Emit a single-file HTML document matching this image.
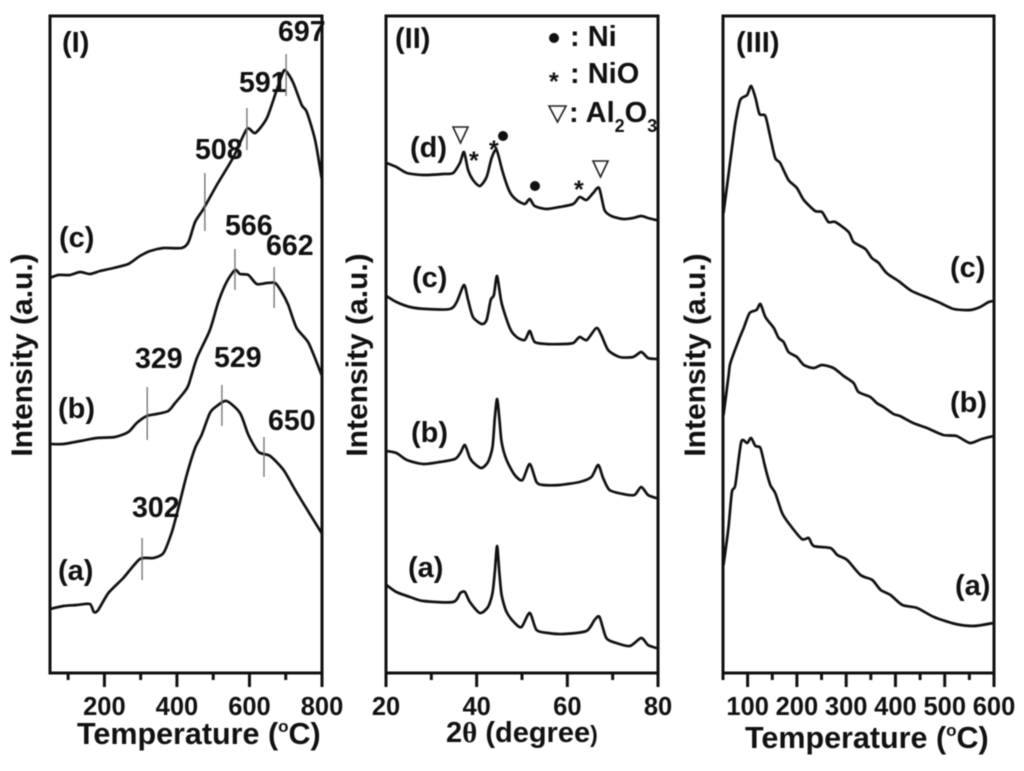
<!DOCTYPE html>
<html lang="en">
<head>
<meta charset="utf-8">
<title>TPD, XRD and desorption panels</title>
<style>
html,body{margin:0;padding:0;background:#fff;width:1024px;height:771px;overflow:hidden}
svg{display:block;filter:blur(.55px)}
text{font-family:"Liberation Sans",sans-serif;font-weight:bold;fill:#111}
.tick{font-size:25.5px;text-anchor:middle}
.ttl{font-size:30px}
.ttlx{font-size:30.5px}
.note{font-size:28.5px}
.lbl{font-size:29px}
.leg{font-size:29px}
</style>
</head>
<body>
<svg id="chart" width="1024" height="771" viewBox="0 0 1024 771" xmlns="http://www.w3.org/2000/svg">
  <g id="panel1">
    <text class="lbl" x="62" y="52">(I)</text>
    <text class="ttl" transform="translate(32,355) rotate(-90)" text-anchor="middle">Intensity (a.u.)</text>
    <text class="ttlx" x="77" y="744">Temperature (<tspan font-size="17" dy="-12">o</tspan><tspan dy="12">C)</tspan></text>
    <text class="lbl" x="59" y="247">(c)</text>
    <text class="lbl" x="58" y="418">(b)</text>
    <text class="lbl" x="58" y="580">(a)</text>
    <text class="note" x="278" y="41">697</text>
    <text class="note" x="239" y="92">591</text>
    <text class="note" x="195" y="159">508</text>
    <text class="note" x="225" y="235">566</text>
    <text class="note" x="266" y="255">662</text>
    <text class="note" x="135" y="368">329</text>
    <text class="note" x="214" y="367">529</text>
    <text class="note" x="268" y="430">650</text>
    <text class="note" x="132" y="517">302</text>
  </g>
  <g id="panel2">
    <text class="lbl" x="395" y="48">(II)</text>
    <text class="ttl" transform="translate(367,355) rotate(-90)" text-anchor="middle">Intensity (a.u.)</text>
    <text class="ttl" x="446" y="742" font-size="29" style="font-size:29px">2<tspan font-family="Liberation Serif">θ</tspan> (degree<tspan style="font-size:23px">)</tspan></text>
    <text class="lbl" x="410" y="157">(d)</text>
    <text class="lbl" x="412" y="287">(c)</text>
    <text class="lbl" x="411" y="442">(b)</text>
    <text class="lbl" x="408" y="577">(a)</text>
    <g>
      <circle cx="554" cy="38" r="5" fill="#111"/>
      <text class="leg" x="570" y="46">: Ni</text>
      <text x="549" y="90" font-size="25">*</text>
      <text class="leg" x="570" y="83">: NiO</text>
      <polygon points="549,106 566,106 557.5,122" fill="none" stroke="#222" stroke-width="1.6"/>
      <text class="leg" x="569" y="122">: Al<tspan style="font-size:18px" dy="10">2</tspan><tspan dy="-10">O</tspan><tspan style="font-size:18px" dy="10">3</tspan></text>
    </g>
    <g>
      <polygon points="453,127 468,127 460.5,143" fill="none" stroke="#222" stroke-width="1.6"/>
      <text x="469" y="169" font-size="25">*</text>
      <text x="489" y="158" font-size="25">*</text>
      <circle cx="503" cy="136" r="5" fill="#111"/>
      <circle cx="535" cy="186" r="5" fill="#111"/>
      <text x="574" y="198" font-size="25">*</text>
      <polygon points="593,161 608,161 600.5,177" fill="none" stroke="#222" stroke-width="1.6"/>
    </g>
  </g>
  <g id="panel3">
    <text class="lbl" x="736" y="52">(III)</text>
    <text class="ttl" transform="translate(705,355) rotate(-90)" text-anchor="middle">Intensity (a.u.)</text>
    <text class="ttlx" x="745" y="748">Temperature (<tspan font-size="17" dy="-12">o</tspan><tspan dy="12">C)</tspan></text>
    <text class="lbl" x="950" y="277">(c)</text>
    <text class="lbl" x="950" y="412">(b)</text>
    <text class="lbl" x="955" y="595">(a)</text>
  </g>
</svg>
<script>
// Panel I data
const p1TempC = [50,73,105,133,160,188,225,266,298,326,363,413,432,450,473,510,556,593,616,648,675,694,703,721,744,758,781,799];
const p1IntC = [395,398,398,401,399,402,405,409,417,422,425,425,431,451,464,488,516,544,540,555,583,602,601,590,568,561,533,495];
const p1TempB = [50,87,133,179,229,266,289,317,344,376,395,418,432,455,491,514,537,560,574,597,620,648,671,689,707,730,763,799];
const p1IntB = [229,229,232,235,236,241,250,257,259,262,270,280,288,315,343,371,391,403,399,398,389,390,390,381,368,345,330,298];
const p1TempA = [50,87,124,160,171,183,211,252,298,335,363,386,404,427,450,468,491,510,537,574,597,625,657,694,726,763,799];
const p1IntA = [64,67,68,69,61,63,80,95,114,115,120,141,165,198,225,238,260,267,272,260,238,221,217,203,183,161,140];
const p1MarkTemp = [701,593,477,560,668,318,524,640,304];
const p1MarkLow = [577,523,442,383,365,233,247,196,93];
const p1MarkHigh = [619,565,500,424,406,286,288,236,135];
const p1MajorTicks = [200,400,600,800];
const p1MinorTicks = [100,300,500,700];

// Panel II data
const p2AngleD = [20.1,22.3,24.6,28.2,32.6,34.8,36.3,37.2,38.1,39.2,40.7,42.2,43.3,44.4,45.8,47.3,48.8,50.6,51.7,52.8,55.4,58.3,61.3,62.7,64.2,65.7,67,68.2,69.7,72.3,74.5,76.3,77.8,79.6];
const p2IntD = [510,506,500,498,499,500,510,521,503,493,487,496,515,523,500,481,473,469,474,467,464,466,469,476,473,480,485,463,457,454,455,457,455,453];
const p2AngleC = [20.1,22.3,25.3,29,34.1,35.6,37.2,38.1,39.2,41.1,42.2,43.1,43.8,44.5,45.5,47.3,48.8,50.6,51.7,52.8,55.4,59.1,61.3,62.7,64.3,66.4,67.5,69,71.5,74.5,76.3,77.8,79.6];
const p2IntC = [377,371,366,364,364,371,388,373,356,349,353,373,378,397,370,345,336,333,342,331,329,329,330,336,333,345,338,323,316,316,321,315,314];
const p2AngleB = [20.1,22.3,24.6,28.2,31.9,35.2,36.4,37.4,38.5,39.6,41.1,42.5,43.5,44,44.5,45,45.5,46.6,48.4,50.1,51.7,53.2,54.7,58.3,62.7,65.3,66.8,67.9,69.3,72.3,74.8,76.3,77.8,79.6];
const p2IntB = [222,220,213,209,211,214,220,228,215,209,205,211,226,255,274,255,231,213,198,193,209,191,188,188,191,196,208,195,183,179,178,186,178,175];
const p2AngleA = [20.1,22.3,25.3,28.2,34.8,36.4,37.4,38.5,40.7,42.5,43.5,44,44.5,45,45.5,46.6,48.4,49.9,51.7,53.2,55.8,59.1,64.2,66,67.1,68.6,70.8,73.8,76.3,77.8,79.6];
const p2IntA = [88,81,76,72,71,80,81,71,60,66,80,101,127,101,78,61,50,46,60,43,40,39,42,53,56,35,30,27,35,28,25];
const p2MajorTicks = [20,40,60,80];
const p2MinorTicks = [30,50,70];

// Panel III data
const p3TempC = [51,65,75,85,99,107,116,124,136,146,156,166,183,200,214,237,251,264,278,305,315,339,352,366,382,406,433,467,491,518,551,572,589,599];
const p3IntC = [460,513,550,573,578,587,575,559,557,536,515,510,493,485,473,462,461,451,451,441,431,424,415,410,400,392,382,375,370,364,363,366,371,372];
const p3TempB = [51,61,65,82,92,104,118,126,136,153,163,173,183,200,214,234,251,274,295,315,325,349,362,376,396,409,436,464,497,524,551,575,599];
const p3IntB = [258,296,310,333,345,360,363,369,356,345,335,331,321,316,308,305,308,305,297,290,281,276,270,266,259,257,250,245,238,237,230,234,237];
const p3TempA = [51,61,68,75,87,99,107,116,126,136,146,156,170,183,210,224,234,268,282,302,329,353,370,390,414,444,478,522,559,599];
const p3IntA = [108,145,181,188,231,230,235,227,225,205,188,180,160,150,134,135,127,125,118,113,98,93,83,78,68,65,56,49,47,50];
const p3MajorTicks = [100,200,300,400,500,600];
const p3MinorTicks = [50,150,250,350,450,550];

const SVGNS = 'http://www.w3.org/2000/svg';
const plotTop = 16, plotBottom = 673, intensityMax = 657;
function linear(d0, d1, r0, r1) {
  return function (v) { return r0 + (v - d0) * (r1 - r0) / (d1 - d0); };
}
const yScale = linear(0, intensityMax, plotBottom, plotTop);

function make(tag, parent) {
  const el = document.createElementNS(SVGNS, tag);
  parent.appendChild(el);
  return el;
}
function smoothPath(pts) {
  let d = 'M' + pts[0][0].toFixed(1) + ' ' + pts[0][1].toFixed(1);
  const k = 8;
  for (let i = 0; i < pts.length - 1; i++) {
    const p0 = pts[Math.max(0, i - 1)], p1 = pts[i], p2 = pts[i + 1], p3 = pts[Math.min(pts.length - 1, i + 2)];
    const c1x = p1[0] + (p2[0] - p0[0]) / k, c1y = p1[1] + (p2[1] - p0[1]) / k;
    const c2x = p2[0] - (p3[0] - p1[0]) / k, c2y = p2[1] - (p3[1] - p1[1]) / k;
    d += 'C' + c1x.toFixed(1) + ' ' + c1y.toFixed(1) + ' ' + c2x.toFixed(1) + ' ' + c2y.toFixed(1) + ' ' + p2[0].toFixed(1) + ' ' + p2[1].toFixed(1);
  }
  return d;
}
function drawSeries(parent, xScale, xs, ys, name) {
  const el = make('path', parent);
  
  
  const pts = xs.map(function (x, i) { return [xScale(x), yScale(ys[i])]; });
  el.setAttribute('d', smoothPath(pts));
  el.setAttribute('fill', 'none');
  el.setAttribute('stroke', '#111');
  el.setAttribute('stroke-width', '2.7');
  el.setAttribute('stroke-linejoin', 'round');
  el.setAttribute('stroke-linecap', 'round');
}
function drawTick(parent, x, len) {
  const el = make('line', parent);
  
  
  el.setAttribute('x1', x);
  el.setAttribute('x2', x);
  el.setAttribute('y1', plotBottom);
  el.setAttribute('y2', plotBottom + len);
  el.setAttribute('stroke', '#111');
  el.setAttribute('stroke-width', '3');
}
function drawAxes(parent, xScale, left, right, major, minor) {
  const frame = make('rect', parent);
  
  
  frame.setAttribute('x', left);
  frame.setAttribute('y', plotTop);
  frame.setAttribute('width', right - left);
  frame.setAttribute('height', plotBottom - plotTop);
  frame.setAttribute('fill', 'none');
  frame.setAttribute('stroke', '#111');
  frame.setAttribute('stroke-width', '3');
  minor.forEach(function (v) { drawTick(parent, xScale(v), 7); });
  major.forEach(function (v) {
    drawTick(parent, xScale(v), 14);
    const t = make('text', parent);
    
    
    t.setAttribute('class', 'tick');
    t.setAttribute('x', xScale(v));
    t.setAttribute('y', 715);
    t.textContent = String(v);
  });
}

const x1 = linear(50, 800, 50, 322);
const x2 = linear(20, 80, 386, 658);
const x3 = linear(50, 600, 723, 994);
const g1 = document.getElementById('panel1');
const g2 = document.getElementById('panel2');
const g3 = document.getElementById('panel3');

drawAxes(g1, x1, 50, 322, p1MajorTicks, p1MinorTicks);
drawAxes(g2, x2, 386, 658, p2MajorTicks, p2MinorTicks);
drawAxes(g3, x3, 723, 994, p3MajorTicks, p3MinorTicks);

drawSeries(g1, x1, p1TempC, p1IntC, 'panel-i-curve-c');
drawSeries(g1, x1, p1TempB, p1IntB, 'panel-i-curve-b');
drawSeries(g1, x1, p1TempA, p1IntA, 'panel-i-curve-a');
p1MarkTemp.forEach(function (t, i) {
  const el = make('line', g1);
  
  
  el.setAttribute('x1', x1(t));
  el.setAttribute('x2', x1(t));
  el.setAttribute('y1', yScale(p1MarkLow[i]));
  el.setAttribute('y2', yScale(p1MarkHigh[i]));
  el.setAttribute('stroke', '#777');
  el.setAttribute('stroke-width', '1.4');
});

drawSeries(g2, x2, p2AngleD, p2IntD, 'panel-ii-curve-d');
drawSeries(g2, x2, p2AngleC, p2IntC, 'panel-ii-curve-c');
drawSeries(g2, x2, p2AngleB, p2IntB, 'panel-ii-curve-b');
drawSeries(g2, x2, p2AngleA, p2IntA, 'panel-ii-curve-a');

drawSeries(g3, x3, p3TempC, p3IntC, 'panel-iii-curve-c');
drawSeries(g3, x3, p3TempB, p3IntB, 'panel-iii-curve-b');
drawSeries(g3, x3, p3TempA, p3IntA, 'panel-iii-curve-a');
</script>
</body>
</html>
